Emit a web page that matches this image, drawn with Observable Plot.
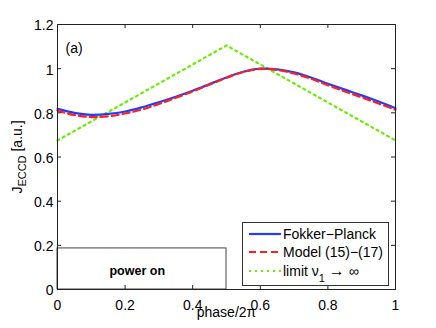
<!DOCTYPE html>
<html><head><meta charset="utf-8">
<script src="https://cdn.jsdelivr.net/npm/d3@7"></script>
<script src="https://cdn.jsdelivr.net/npm/@observablehq/plot@0.6"></script>
<style>
body{margin:0;background:#fff;}
#wrap{position:relative;width:436px;height:328px;font-family:"Liberation Sans",Arial,Helvetica,sans-serif;color:#000;}
#ylab{position:absolute;left:17px;top:157px;transform:translate(-50%,-50%) rotate(-90deg);white-space:nowrap;font-size:14px;line-height:14px;}
#ylab sub{font-size:11px;vertical-align:-4px;line-height:0;}
#legend{position:absolute;left:242px;top:222px;width:145px;height:62px;border:1px solid #333;background:#fff;font-size:14px;}
.row{position:absolute;left:0;height:18px;width:145px;}
.row svg{position:absolute;left:5px;top:0;}
.row span{position:absolute;left:40px;top:1px;white-space:nowrap;line-height:16px;}
.row sub{font-size:11px;vertical-align:-6px;line-height:0;}
.row .arr{font-size:16px;}
</style></head><body><div id="wrap"></div>
<script>
// ---- data ----
const phase = [0,0.05,0.1,0.15,0.2,0.25,0.3,0.35,0.4,0.45,0.5,0.55,0.6,0.65,0.7,0.75,0.8,0.85,0.9,0.95,1];
const fokkerPlanck = [0.818,0.800,0.791,0.795,0.806,0.825,0.848,0.873,0.900,0.930,0.960,0.986,1.000,0.997,0.983,0.960,0.932,0.905,0.879,0.851,0.821];
const model = [0.810,0.790,0.781,0.784,0.797,0.815,0.840,0.868,0.897,0.928,0.959,0.985,0.999,0.994,0.978,0.954,0.925,0.897,0.870,0.842,0.814];
const limitPhase = [0,0.5,1];
const limitValues = [0.675,1.105,0.675];
const xTicks = [0,0.2,0.4,0.6,0.8,1];
const yTicks = [0,0.2,0.4,0.6,0.8,1,1.2];
const seriesNames = ["Fokker\u2212Planck","Model (15)\u2212(17)","limit \u03bd"];
const seriesColors = ["#1f3dff","#ff1f1f","#66ee00"];
const powerOn = {label:"power on", x1:0, x2:0.5, y1:0, y2:0.186};
const panelLabel = "(a)";

const fp = phase.map((p,i)=>({p, v:fokkerPlanck[i]}));
const md = phase.map((p,i)=>({p, v:model[i]}));
const lim = limitPhase.map((p,i)=>({p, v:limitValues[i]}));

const tx = 4/338, ty = 4/265*1.2;
const fmt = d => String(d);

const chart = Plot.plot({
  width:436, height:328,
  marginLeft:57, marginRight:41, marginTop:24, marginBottom:39,
  style:{fontFamily:'"Liberation Sans",Arial,sans-serif', fontSize:"14px", background:"white", color:"black"},
  x:{domain:[0,1]},
  y:{domain:[0,1.2]},
  marks:[
    Plot.rect([powerOn],{x1:"x1",x2:"x2",y1:"y1",y2:"y2",fill:"white",stroke:"#444",strokeWidth:1}),
    Plot.text([powerOn],{x:d=>(d.x1+d.x2)/2 - 0.014,y:d=>d.y2*0.46,text:"label",fontWeight:"bold",fontSize:12.5}),
    Plot.line(lim,{x:"p",y:"v",stroke:seriesColors[2],strokeWidth:2.2,strokeDasharray:"2,4"}),
    Plot.line(fp,{x:"p",y:"v",stroke:seriesColors[0],strokeWidth:2.2,curve:"catmull-rom"}),
    Plot.line(md,{x:"p",y:"v",stroke:seriesColors[1],strokeWidth:2.2,strokeDasharray:"7,4",curve:"catmull-rom"}),
    Plot.ruleX(xTicks,{x:d=>d,y1:0,y2:ty,stroke:"#222"}),
    Plot.ruleX(xTicks,{x:d=>d,y1:1.2-ty,y2:1.2,stroke:"#222"}),
    Plot.ruleY(yTicks,{y:d=>d,x1:0,x2:tx,stroke:"#222"}),
    Plot.ruleY(yTicks,{y:d=>d,x1:1-tx,x2:1,stroke:"#222"}),
    Plot.axisX(xTicks,{tickSize:0,tickPadding:11,tickFormat:fmt,label:null,fontSize:14}),
    Plot.axisY(yTicks,{tickSize:0,tickPadding:4,tickFormat:fmt,label:null,fontSize:14,dy:1.5}),
    Plot.text(["phase/2\u03c0"],{frameAnchor:"bottom",lineAnchor:"middle",dy:23,fontSize:14}),
    Plot.text([panelLabel],{x:0.024,y:1.09,text:d=>d,textAnchor:"start",fontSize:14}),
    Plot.frame({stroke:"#222"})
  ]
});
const wrap = document.getElementById("wrap");
wrap.appendChild(chart);

const yl = document.createElement("div");
yl.id = "ylab";
yl.innerHTML = "J<sub>ECCD</sub> [a.u.]";
wrap.appendChild(yl);

const lg = document.createElement("div");
lg.id = "legend";
const dashes = [null,"7,4","2,4"];
seriesNames.forEach((name,i)=>{
  const row = document.createElement("div");
  row.className = "row";
  row.style.top = (2 + i*18.4) + "px";
  const sw = `<svg width="34" height="18"><line x1="1" y1="9" x2="33" y2="9" stroke="${seriesColors[i]}" stroke-width="2.2" ${dashes[i]?`stroke-dasharray="${dashes[i]}"`:""}/></svg>`;
  const label = i===2 ? `${name}<sub>1</sub> <span class="arr" style="position:static">\u2192</span> \u221e` : name;
  row.innerHTML = sw + `<span>${label}</span>`;
  lg.appendChild(row);
});
wrap.appendChild(lg);
</script>
</body></html>
